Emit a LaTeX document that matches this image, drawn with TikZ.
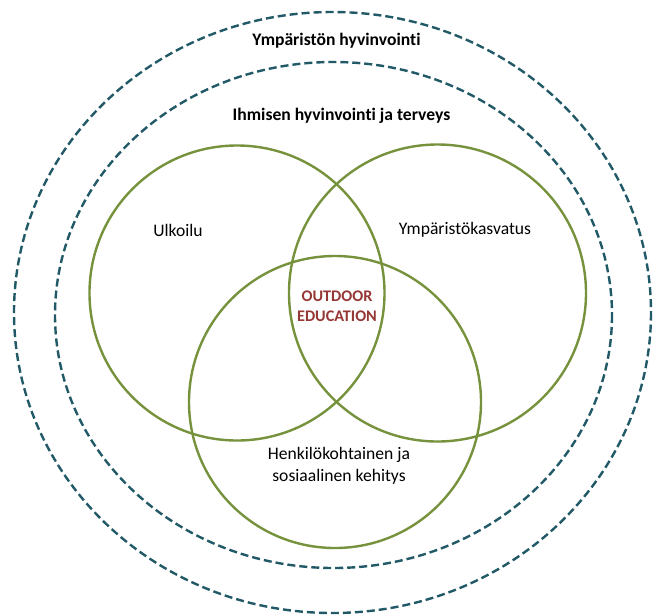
\documentclass[tikz,border=0pt]{standalone}
\usepackage{fontspec}
\setmainfont{Carlito}[RawFeature=-liga]
\definecolor{ringblue}{HTML}{215967}
\definecolor{venngreen}{HTML}{76923C}
\definecolor{oered}{HTML}{953735}
\begin{document}
\begin{tikzpicture}[x=1pt,y=-1pt,
  ring/.style={draw=ringblue,line width=2.4pt,dash pattern=on 8pt off 4pt},
  venn/.style={draw=venngreen,line width=2.4pt},
  lbl/.style={font=\fontsize{17.6}{20}\selectfont,align=center,text=black,inner sep=0pt},
  blbl/.style={lbl,font=\fontsize{17.6}{20}\selectfont\bfseries}]
\useasboundingbox (0,0) rectangle (653,614);
\draw[ring] (332.5,312.5) ellipse [x radius=318.5, y radius=300.5];
\draw[ring] (333.5,315) ellipse [x radius=278.5, y radius=253];
\draw[venn] (237,293) circle [radius=147.5];
\draw[venn] (437.5,293) circle [radius=148.5];
\draw[venn] (335,402) circle [radius=146];
\node[blbl] (env) at (336.5,41) {Ympäristön hyvinvointi};
\node[blbl] (hum) at (341.5,116) {Ihmisen hyvinvointi ja terveys};
\node[lbl] (ulk) at (178,230) {Ulkoilu};
\node[lbl] (ymp) at (465,230) {Ympäristökasvatus};
\node[lbl,font=\fontsize{16.2}{20}\selectfont\bfseries,text=oered] (oe) at (337,306) {OUTDOOR\\EDUCATION};
\node[lbl,font=\fontsize{17.6}{21.5}\selectfont] (hen) at (339,466) {Henkilökohtainen ja\\sosiaalinen kehitys};
\end{tikzpicture}
\end{document}
